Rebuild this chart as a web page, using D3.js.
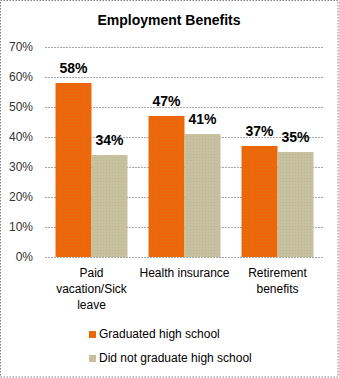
<!DOCTYPE html>
<html>
<head>
<meta charset="utf-8">
<script src="https://cdn.jsdelivr.net/npm/d3@7"></script>
<style>
  html, body { margin: 0; padding: 0; background: #fff; }
  svg { display: block; font-family: "Liberation Sans", Arial, sans-serif; }
</style>
</head>
<body>
<svg id="chart" width="339" height="378"></svg>
<script>
// Benefit categories (multi-line axis labels) and the two series
const categories = [
  ["Paid", "vacation/Sick", "leave"],
  ["Health insurance"],
  ["Retirement", "benefits"]
];
const seriesNames = ["Graduated high school", "Did not graduate high school"];
const graduated = [58, 47, 37];
const notGraduated = [34, 41, 35];
const yTicks = [0, 10, 20, 30, 40, 50, 60, 70];
const colors = ["#EE660A", "#C8C19F"];
const dotColors = ["#D9761A", "#B9B890"];

const svg = d3.select("#chart");
const W = 339, H = 378;
const margin = { left: 45, right: 15, top: 47, bottom: 121 };

// Fine stippled fills for the bars and legend swatches
const defs = svg.append("defs");
colors.forEach((c, i) => {
  const p = defs.append("pattern").attr("id", "fill" + i)
    .attr("patternUnits", "userSpaceOnUse").attr("width", 3).attr("height", 3);
  p.append("rect").attr("width", 3).attr("height", 3).attr("fill", c);
  p.append("rect").attr("x", 1).attr("y", 1).attr("width", 1).attr("height", 1).attr("fill", dotColors[i]);
});

// Dotted frame around the chart area
svg.append("rect")
  .attr("x", 0.5).attr("y", 0.5).attr("width", W - 1.5).attr("height", H - 1.5)
  .attr("fill", "#fff").attr("stroke", "#7f7f7f").attr("stroke-dasharray", "1.5,1.5");

svg.append("text")
  .attr("x", 169).attr("y", 25)
  .attr("text-anchor", "middle")
  .attr("font-size", 14).attr("font-weight", "bold").attr("fill", "#000")
  .text("Employment Benefits");

const x0 = d3.scaleBand().domain(d3.range(categories.length))
  .range([margin.left, W - margin.right]).paddingInner(0.226).paddingOuter(0.113);
const x1 = d3.scaleBand().domain([0, 1]).range([0, x0.bandwidth()]);
const y = d3.scaleLinear().domain([0, 70]).range([H - margin.bottom, margin.top]);

// Horizontal gridlines
const yAxis = d3.axisLeft(y).tickValues(yTicks).tickFormat(d => d + "%")
  .tickSize(-(W - margin.right - margin.left)).tickPadding(12);
const ya = svg.append("g").attr("transform", `translate(${margin.left},0)`).call(yAxis);
ya.select(".domain").remove();
ya.selectAll(".tick line").attr("stroke", "#a6a6a6").attr("stroke-dasharray", "2,1");
ya.selectAll(".tick text").attr("font-size", 12).attr("fill", "#333")
  .attr("font-family", "Liberation Sans, Arial, sans-serif");

const series = [graduated, notGraduated];
const groups = svg.append("g");
series.forEach((vals, si) => {
  groups.selectAll(null).data(vals).enter().append("rect")
    .attr("x", (d, i) => x0(i) + x1(si))
    .attr("width", x1.bandwidth())
    .attr("y", d => y(d))
    .attr("height", d => y(0) - y(d))
    .attr("fill", `url(#fill${si})`);
  groups.selectAll(null).data(vals).enter().append("text")
    .attr("x", (d, i) => x0(i) + x1(si) + x1.bandwidth() / 2)
    .attr("y", d => y(d) - 10)
    .attr("text-anchor", "middle")
    .attr("font-size", 14).attr("font-weight", "bold").attr("fill", "#000")
    .text(d => d + "%");
});

// Category labels
const xa = svg.append("g");
categories.forEach((lines, i) => {
  const t = xa.append("text")
    .attr("x", x0(i) + x0.bandwidth() / 2).attr("y", 277)
    .attr("text-anchor", "middle").attr("font-size", 12).attr("fill", "#000");
  lines.forEach((ln, k) => {
    t.append("tspan").attr("x", x0(i) + x0.bandwidth() / 2)
      .attr("dy", k === 0 ? 0 : 16).text(ln);
  });
});

// Legend
const legend = svg.append("g");
seriesNames.forEach((name, i) => {
  const ly = 338 + i * 24;
  legend.append("rect").attr("x", 89).attr("y", ly - 7).attr("width", 7).attr("height", 7)
    .attr("fill", `url(#fill${i})`);
  legend.append("text").attr("x", 99).attr("y", ly)
    .attr("font-size", 12).attr("fill", "#000").text(name);
});
</script>
</body>
</html>
